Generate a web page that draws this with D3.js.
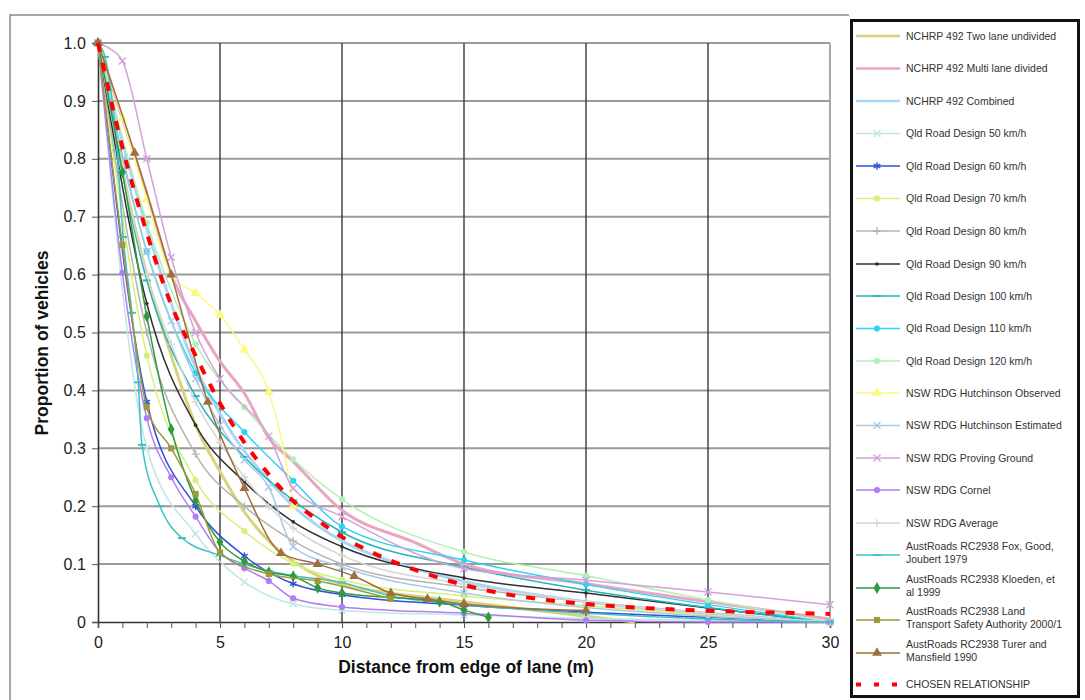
<!DOCTYPE html>
<html><head><meta charset="utf-8">
<script src="https://cdn.jsdelivr.net/npm/d3@7"></script>
<style>
body{margin:0;background:#fff;}
text{font-family:"Liberation Sans",Arial,sans-serif;}
</style></head>
<body><svg id="c" width="1085" height="700"></svg>
<script>
// ---------- DATA ----------
const xTicks = [0,5,10,15,20,25,30];
const yTicks = [0,0.1,0.2,0.3,0.4,0.5,0.6,0.7,0.8,0.9,1.0];

const nchrpTwoX = [0,1,2,3,4,5,6,7,8,9,10,12,15,18,20,22];
const nchrpTwoY = [1,0.78,0.6,0.46,0.34,0.26,0.19,0.14,0.105,0.08,0.065,0.05,0.035,0.02,0.01,0];
const nchrpMultiX = [0,1,2,3,4,5,6,7,8,10,13,15,20,25,30];
const nchrpMultiY = [1,0.87,0.74,0.6,0.52,0.45,0.395,0.318,0.277,0.193,0.137,0.1,0.066,0.035,0.005];
const nchrpCombX = [0,1,2,3,4,5,6,7,8,10,12,15,20,25,30];
const nchrpCombY = [1,0.83,0.68,0.55,0.44,0.36,0.295,0.245,0.2,0.14,0.105,0.07,0.035,0.015,0];

const qldX = [0,2,4,6,8,10,15,20,25,30];
const qld50Y  = [1,0.3,0.152,0.069,0.031,0.02,0.012,0.006,0.003,0];
const qld60Y  = [1,0.38,0.2,0.114,0.066,0.047,0.029,0.017,0.008,0];
const qld70Y  = [1,0.46,0.245,0.157,0.101,0.073,0.045,0.028,0.012,0];
const qld80Y  = [1,0.5,0.29,0.2,0.14,0.1,0.06,0.035,0.015,0];
const qld90Y  = [1,0.55,0.34,0.242,0.173,0.13,0.076,0.05,0.024,0];
const qld100Y = [1,0.59,0.39,0.285,0.21,0.155,0.095,0.055,0.025,0];
const qld110Y = [1,0.64,0.43,0.328,0.244,0.165,0.107,0.065,0.03,0];
const qld120Y = [1,0.69,0.48,0.371,0.281,0.212,0.121,0.08,0.038,0];

const hutchObsX = [0,1,2,3,4,5,6,7,7.5,8];
const hutchObsY = [1,0.87,0.73,0.6,0.568,0.53,0.47,0.397,0.32,0.2];
const hutchEstX = [0,1,2,3,4,5,6,7,8,10,15,20,25,30];
const hutchEstY = [1,0.8,0.64,0.52,0.42,0.34,0.28,0.233,0.13,0.095,0.05,0.025,0.01,0];
const provingX = [0,0.5,1,2,3,4,5,7,8,10,15,20,25,30];
const provingY = [1,0.99,0.969,0.8,0.63,0.5,0.42,0.321,0.231,0.182,0.092,0.072,0.052,0.03];
const cornelX = [0,1,2,3,4,5,6,7,8,10,15,20,25,30];
const cornelY = [1,0.603,0.352,0.25,0.182,0.12,0.093,0.071,0.041,0.026,0.015,0.003,0,0];
const averageX = [0,1,2,3,4,5,6,7,8,10,15,20,25,30];
const averageY = [1,0.78,0.6,0.48,0.38,0.31,0.25,0.2,0.162,0.115,0.065,0.035,0.015,0];

const foxX = [0,0.29,0.78,1.03,1.39,1.65,1.8,2.54,3.44,5,6,7,8,10,12,15,20,25,30];
const foxY = [1,0.976,0.815,0.665,0.534,0.414,0.306,0.2,0.145,0.115,0.1,0.088,0.08,0.068,0.045,0.03,0.015,0.005,0];
const kloedenX = [0,1,2,3,4,5,6,7,8,9,10,14,15,16];
const kloedenY = [1,0.777,0.528,0.333,0.21,0.138,0.105,0.086,0.079,0.059,0.05,0.035,0.021,0.008];
const ltsaX = [0,1,2,3,4,5,7,9,12];
const ltsaY = [1,0.651,0.371,0.3,0.221,0.12,0.083,0.071,0.04];
const turerX = [0,1.5,3,4.5,6,7.5,9,10.5,12,13.5,15,20];
const turerY = [1,0.81,0.6,0.38,0.231,0.119,0.1,0.079,0.05,0.04,0.031,0.02];

const chosenX = [0,1,2,3,4,5,6,7,8,9,10,11,12,13,14,15,16,17,18,19,20,22,24,26,28,30];
const chosenY = [1,0.82,0.672,0.548,0.46,0.378,0.31,0.255,0.209,0.176,0.147,0.125,0.106,0.09,0.076,0.064,0.054,0.046,0.04,0.035,0.031,0.025,0.021,0.018,0.016,0.014];

const seriesNames = [
 "NCHRP 492 Two lane undivided","NCHRP 492 Multi lane divided","NCHRP 492 Combined",
 "Qld Road Design 50 km/h","Qld Road Design 60 km/h","Qld Road Design 70 km/h","Qld Road Design 80 km/h",
 "Qld Road Design 90 km/h","Qld Road Design 100 km/h","Qld Road Design 110 km/h","Qld Road Design 120 km/h",
 "NSW RDG Hutchinson Observed","NSW RDG Hutchinson Estimated","NSW RDG Proving Ground","NSW RDG Cornel",
 "NSW RDG Average",["AustRoads RC2938 Fox, Good,","Joubert 1979"],["AustRoads RC2938 Kloeden, et","al 1999"],
 ["AustRoads RC2938 Land","Transport Safety Authority 2000/1"],["AustRoads RC2938 Turer and","Mansfield 1990"],
 "CHOSEN RELATIONSHIP"];

// ---------- STYLE / TABLE ----------
const S = [
 {x:nchrpTwoX,y:nchrpTwoY,c:"#d8d27c",w:3,m:null},
 {x:nchrpMultiX,y:nchrpMultiY,c:"#eaa6bf",w:3,m:null},
 {x:nchrpCombX,y:nchrpCombY,c:"#aad6f5",w:3,m:null},
 {x:qldX,y:qld50Y,c:"#bfe6e6",w:1.5,m:"times"},
 {x:qldX,y:qld60Y,c:"#2f4fd6",w:1.5,m:"star"},
 {x:qldX,y:qld70Y,c:"#d6f07a",w:1.5,m:"circle"},
 {x:qldX,y:qld80Y,c:"#b4b4b4",w:1.5,m:"plus"},
 {x:qldX,y:qld90Y,c:"#303030",w:1.5,m:"smalldot"},
 {x:qldX,y:qld100Y,c:"#22b4b8",w:1.5,m:"dash"},
 {x:qldX,y:qld110Y,c:"#2ed2f2",w:1.5,m:"circle"},
 {x:qldX,y:qld120Y,c:"#b2f0b4",w:1.5,m:"circle"},
 {x:hutchObsX,y:hutchObsY,c:"#fafa82",w:1.5,m:"triangle"},
 {x:hutchEstX,y:hutchEstY,c:"#a9c9e2",w:1.5,m:"times"},
 {x:provingX,y:provingY,c:"#d2a2da",w:1.5,m:"times"},
 {x:cornelX,y:cornelY,c:"#b07ef2",w:1.5,m:"circle"},
 {x:averageX,y:averageY,c:"#d6d6d6",w:1.5,m:"plus"},
 {x:foxX,y:foxY,c:"#3cc2c4",w:1.5,m:"dash"},
 {x:kloedenX,y:kloedenY,c:"#2e9a3c",w:1.5,m:"diamond"},
 {x:ltsaX,y:ltsaY,c:"#9c9a3c",w:1.5,m:"square"},
 {x:turerX,y:turerY,c:"#9e6e3e",w:1.5,m:"triangle"},
 {x:chosenX,y:chosenY,c:"#ff0000",w:4,m:null,dash:"9,11"}
];
S.forEach((s,i)=>s.name=seriesNames[i]);

// ---------- CHART ----------
const svg = d3.select("#c");
const x = d3.scaleLinear().domain([0,30]).range([98,830]);
const y = d3.scaleLinear().domain([0,1]).range([622,43]);

// outer frame
svg.append("path").attr("d","M10,700V15H849").attr("fill","none").attr("stroke","#8a8a8a").attr("stroke-width",1.5);

// horizontal gridlines
svg.append("g").selectAll("line").data(yTicks.filter(d=>d>0)).join("line")
 .attr("x1",x(0)).attr("x2",x(30)).attr("y1",d=>y(d)).attr("y2",d=>y(d))
 .attr("stroke","#9a9a9a").attr("stroke-width",2);
// vertical gridlines
svg.append("g").selectAll("line").data(xTicks.filter(d=>d>0)).join("line")
 .attr("x1",d=>x(d)).attr("x2",d=>x(d)).attr("y1",y(0)).attr("y2",y(1))
 .attr("stroke",d=>d===30?"#a8a8a8":"#3a3a3a").attr("stroke-width",d=>d===30?2:1.4);

// axes
const xAxis = d3.axisBottom(x).tickValues(d3.range(0,31,1)).tickSize(6)
 .tickFormat(d=>xTicks.includes(d)?d:"");
const gx = svg.append("g").attr("transform",`translate(0,${y(0)})`).call(xAxis);
gx.select(".domain").attr("stroke","#333").attr("stroke-width",1.6);
gx.selectAll(".tick line").attr("stroke","#555");
gx.selectAll("text").attr("font-size",16).attr("fill","#222").attr("dy","1.05em")
 .attr("font-family","Liberation Sans, Arial, sans-serif");

const yAxis = d3.axisLeft(y).tickValues(yTicks).tickSize(6)
 .tickFormat(d=>d===0?"0":d3.format(".1f")(d));
const gy = svg.append("g").attr("transform",`translate(${x(0)},0)`).call(yAxis);
gy.select(".domain").attr("stroke","#333").attr("stroke-width",1.6);
gy.selectAll(".tick line").attr("stroke","#555");
gy.selectAll("text").attr("font-size",16).attr("fill","#222").attr("dx","-0.2em")
 .attr("font-family","Liberation Sans, Arial, sans-serif");

// titles
svg.append("text").attr("x",466).attr("y",673).attr("text-anchor","middle")
 .attr("font-size",17.5).attr("font-weight","bold").attr("fill","#111")
 .text("Distance from edge of lane (m)");
svg.append("text").attr("transform","translate(48,343) rotate(-90)").attr("text-anchor","middle")
 .attr("font-size",17.5).attr("font-weight","bold").attr("fill","#111")
 .text("Proportion of vehicles");

// markers
function drawMarker(g, type, color, cx, cy){
  const sym = {times:d3.symbolTimes, star:d3.symbolAsterisk, plus:d3.symbolCross,
               triangle:d3.symbolTriangle, diamond:d3.symbolDiamond, square:d3.symbolSquare, circle:d3.symbolCircle};
  if(!type) return;
  if(type==="dash"){
    g.append("line").attr("x1",cx-4).attr("x2",cx+4).attr("y1",cy).attr("y2",cy)
     .attr("stroke",color).attr("stroke-width",2);
    return;
  }
  if(type==="smalldot"){
    g.append("circle").attr("cx",cx).attr("cy",cy).attr("r",1.8).attr("fill",color);
    return;
  }
  if(type==="times"||type==="star"){
    g.append("path").attr("d",d3.symbol(sym[type],type==="star"?40:34)()).attr("transform",`translate(${cx},${cy})`)
     .attr("fill","none").attr("stroke",color).attr("stroke-width",1.4);
    return;
  }
  if(type==="plus"){
    g.append("path").attr("d","M-4,0H4M0,-4V4").attr("transform",`translate(${cx},${cy})`)
     .attr("fill","none").attr("stroke",color).attr("stroke-width",1.3);
    return;
  }
  const size = type==="circle"?30:type==="triangle"?42:type==="square"?38:40;
  g.append("path").attr("d",d3.symbol(sym[type],size)()).attr("transform",`translate(${cx},${cy})`)
   .attr("fill",color);
}

const line = d3.line().x(d=>x(d[0])).y(d=>y(d[1])).curve(d3.curveMonotoneX);
const plot = svg.append("g");
S.forEach(s=>{
  const pts = s.x.map((v,i)=>[v,s.y[i]]);
  const g = plot.append("g");
  g.append("path").datum(pts).attr("d",line).attr("fill","none")
   .attr("stroke",s.c).attr("stroke-width",s.w)
   .attr("stroke-dasharray",s.dash||null).attr("stroke-linejoin","round");
  if(s.m){
    pts.forEach(p=>{ if(!(s.x===provingX && p[0]===0.5) && !(s.x===hutchObsX && p[0]===7.5)) drawMarker(g,s.m,s.c,x(p[0]),y(p[1])); });
  }
});

// ---------- LEGEND ----------
svg.append("rect").attr("x",851.5).attr("y",20.5).attr("width",227).attr("height",676)
 .attr("fill","#fff").attr("stroke","#111").attr("stroke-width",3);
const legendLineY = [36,68.5,101,133.5,166,198.5,231,264,296,328.5,361,393,425.5,458,490,523,555,588,620,653,684.5];
const lg = svg.append("g");
S.forEach((s,i)=>{
  const ly = legendLineY[i];
  const g = lg.append("g");
  if(s.dash){
    g.append("line").attr("x1",856).attr("x2",903).attr("y1",ly).attr("y2",ly)
     .attr("stroke",s.c).attr("stroke-width",4).attr("stroke-dasharray","5,13");
  } else {
    g.append("line").attr("x1",856).attr("x2",900).attr("y1",ly).attr("y2",ly)
     .attr("stroke",s.c).attr("stroke-width",s.w===3?2.5:1.3);
    drawMarker(g,s.m,s.c,877,ly);
  }
  const t = g.append("text").attr("x",906).attr("font-size",10.5).attr("fill","#333");
  if(Array.isArray(s.name)){
    t.attr("y",ly-5);
    t.append("tspan").attr("x",906).attr("dy",0).text(s.name[0]);
    t.append("tspan").attr("x",906).attr("dy",12.5).text(s.name[1]);
  } else {
    t.attr("y",ly+3.5).text(s.name);
  }
});
</script></body></html>
